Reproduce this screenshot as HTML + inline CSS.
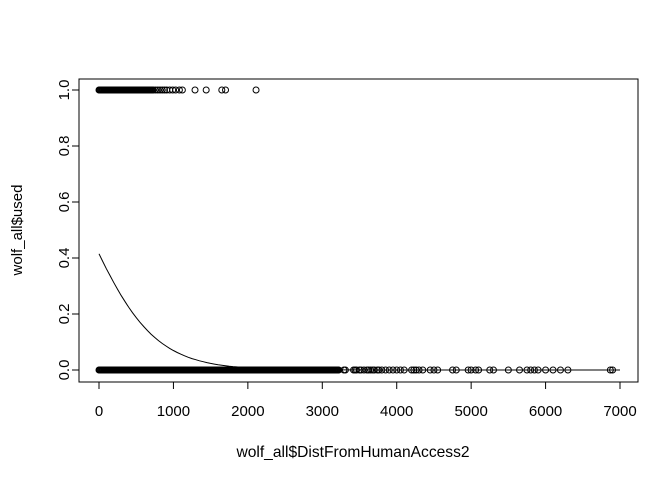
<!DOCTYPE html>
<html><head><meta charset="utf-8"><style>
body{margin:0;background:#fff}
svg text{font-family:"Liberation Sans",sans-serif;font-size:15px;fill:#000}
</style></head><body>
<svg id="c" width="672" height="480" viewBox="0 0 672 480"></svg>
<script>
const usedX = [0,10,20,30,40,50,60,70,80,90,100,110,120,130,140,150,160,170,180,190,200,210,220,230,240,250,260,270,280,290,300,310,320,330,340,350,360,370,380,390,400,410,420,430,440,450,460,470,480,490,500,510,520,530,540,550,560,570,580,590,600,610,620,630,640,650,660,670,680,690,700,710,720,730,760,790,820,850,880,910,950,990,1030,1080,1120,1290,1440,1650,1700,2110];
const unusedX = [0,10,20,30,40,50,60,70,80,90,100,110,120,130,140,150,160,170,180,190,200,210,220,230,240,250,260,270,280,290,300,310,320,330,340,350,360,370,380,390,400,410,420,430,440,450,460,470,480,490,500,510,520,530,540,550,560,570,580,590,600,610,620,630,640,650,660,670,680,690,700,710,720,730,740,750,760,770,780,790,800,810,820,830,840,850,860,870,880,890,900,910,920,930,940,950,960,970,980,990,1000,1010,1020,1030,1040,1050,1060,1070,1080,1090,1100,1110,1120,1130,1140,1150,1160,1170,1180,1190,1200,1210,1220,1230,1240,1250,1260,1270,1280,1290,1300,1310,1320,1330,1340,1350,1360,1370,1380,1390,1400,1410,1420,1430,1440,1450,1460,1470,1480,1490,1500,1510,1520,1530,1540,1550,1560,1570,1580,1590,1600,1610,1620,1630,1640,1650,1660,1670,1680,1690,1700,1710,1720,1730,1740,1750,1760,1770,1780,1790,1800,1810,1820,1830,1840,1850,1860,1870,1880,1890,1900,1910,1920,1930,1940,1950,1960,1970,1980,1990,2000,2010,2020,2030,2040,2050,2060,2070,2080,2090,2100,2110,2120,2130,2140,2150,2160,2170,2180,2190,2200,2210,2220,2230,2240,2250,2260,2270,2280,2290,2300,2310,2320,2330,2340,2350,2360,2370,2380,2390,2400,2410,2420,2430,2440,2450,2460,2470,2480,2490,2500,2510,2520,2530,2540,2550,2560,2570,2580,2590,2600,2610,2620,2630,2640,2650,2660,2670,2680,2690,2700,2710,2720,2730,2740,2750,2760,2770,2780,2790,2800,2810,2820,2830,2840,2850,2860,2870,2880,2890,2900,2910,2920,2930,2940,2950,2960,2970,2980,2990,3000,3010,3020,3030,3040,3050,3060,3070,3080,3090,3100,3110,3120,3130,3140,3150,3160,3170,3180,3190,3200,3210,3220,3290,3310,3420,3440,3460,3500,3520,3560,3600,3620,3650,3680,3700,3740,3760,3800,3850,3900,3950,4000,4050,4100,4200,4230,4260,4300,4350,4450,4500,4550,4750,4800,4960,5000,5060,5100,5250,5300,5500,5650,5750,5800,5850,5900,6000,6100,6200,6300,6870,6900];
const xTicks = [0,1000,2000,3000,4000,5000,6000,7000];
const yTicks = ["0.0","0.2","0.4","0.6","0.8","1.0"];
const coef = [-0.344,-0.00225];
const svg = document.getElementById('c');
const NS = 'http://www.w3.org/2000/svg';
const sx = v => 99 + v * 0.07443;
const sy = v => 370 - v * 280;
function mk(t, a) { const e = document.createElementNS(NS, t); for (const k in a) e.setAttribute(k, a[k]); svg.appendChild(e); return e; }
let e = mk('rect', {x:79, y:79, width:559, height:303, fill:'none', stroke:'#000'});


xTicks.forEach(v => {
  const l = mk('line', {x1:sx(v), x2:sx(v), y1:382, y2:389, stroke:'#000'});
  
  
  const t = mk('text', {x:sx(v), y:416, 'text-anchor':'middle'}); t.textContent = v;
  
  
});
e = mk('line', {x1:sx(0), x2:sx(7000), y1:382, y2:382, stroke:'#000'});


yTicks.forEach(s => {
  const v = parseFloat(s);
  const l = mk('line', {x1:72, x2:79, y1:sy(v), y2:sy(v), stroke:'#000'});
  
  
  const t = mk('text', {x:0, y:0, 'text-anchor':'middle', transform:`translate(69,${sy(v)}) rotate(-90)`}); t.textContent = s;
  
  
});
e = mk('text', {x:353, y:457, 'text-anchor':'middle', style:'font-size:15.6px'}); e.textContent = 'wolf_all$DistFromHumanAccess2';


e = mk('text', {x:0, y:0, 'text-anchor':'middle', transform:'translate(22,230) rotate(-90)'}); e.textContent = 'wolf_all$used';


usedX.forEach(v => {
  const c = mk('circle', {cx:sx(v), cy:sy(1), r:3, fill:'none', stroke:'#000'});
  
  
});
unusedX.forEach(v => {
  const c = mk('circle', {cx:sx(v), cy:sy(0), r:3, fill:'none', stroke:'#000'});
  
  
});
let d = '';
for (let x = 0; x <= 7000; x += 50) {
  const p = 1 / (1 + Math.exp(-(coef[0] + coef[1] * x)));
  d += (x ? 'L' : 'M') + sx(x).toFixed(1) + ',' + sy(p).toFixed(1);
}
e = mk('path', {d:d, fill:'none', stroke:'#000'});


</script>
</body></html>
